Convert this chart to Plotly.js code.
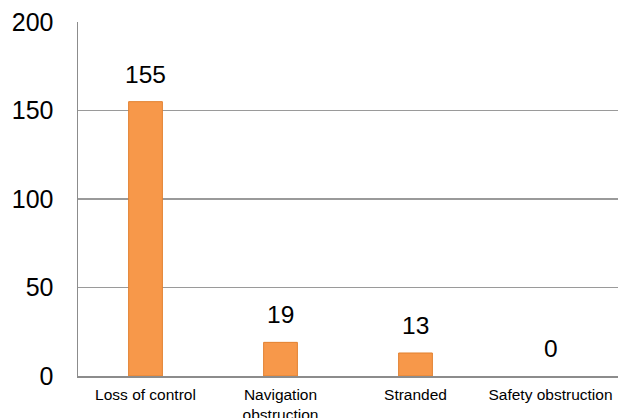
<!DOCTYPE html>
<html>
<head>
<meta charset="utf-8">
<script src="https://cdn.plot.ly/plotly-3.0.1.min.js"></script>
<style>
  html, body { margin: 0; padding: 0; background: #fff; }
  #chart { width: 619px; height: 418px; }
</style>
</head>
<body>
<div id="chart"></div>
<script>
// Incident counts by cause
const categories = ['Loss of control', 'Navigation<br>obstruction', 'Stranded', 'Safety obstruction'];
const counts = [155, 19, 13, 0];
const yTicks = [0, 50, 100, 150, 200];

const bars = {
  type: 'bar',
  x: categories,
  y: counts,
  marker: {
    color: '#F7984A',
    line: { color: '#E2802F', width: counts.map(v => (v > 0 ? 1 : 0)) }
  },
  hoverinfo: 'skip'
};

// Value labels sitting above each bar
const labels = categories.map((c, i) => ({
  x: c,
  y: counts[i],
  text: String(counts[i]),
  showarrow: false,
  yanchor: 'bottom',
  yshift: 12,
  font: { family: 'Liberation Sans, Arial, sans-serif', size: 24.5, color: '#000' }
}));

const layout = {
  width: 619,
  height: 418,
  margin: { l: 78, r: 1, t: 22, b: 42 },
  paper_bgcolor: '#fff',
  plot_bgcolor: '#fff',
  showlegend: false,
  bargap: 0.75,
  font: { family: 'Liberation Sans, Arial, sans-serif', color: '#000' },
  xaxis: {
    type: 'category',
    showline: true,
    linecolor: '#8C8C8C',
    linewidth: 2,
    showgrid: false,
    ticks: '',
    tickfont: { size: 15.5 },
    ticklabelstandoff: 3
  },
  yaxis: {
    range: [0, 200],
    tickvals: yTicks,
    showline: true,
    linecolor: '#8C8C8C',
    linewidth: 1.5,
    showgrid: true,
    gridcolor: '#9A9A9A',
    gridwidth: 1.5,
    zeroline: false,
    ticks: '',
    tickfont: { size: 25 },
    ticklabelstandoff: 18
  },
  annotations: labels
};

Plotly.newPlot('chart', [bars], layout, { displayModeBar: false, staticPlot: true });
</script>
</body>
</html>
